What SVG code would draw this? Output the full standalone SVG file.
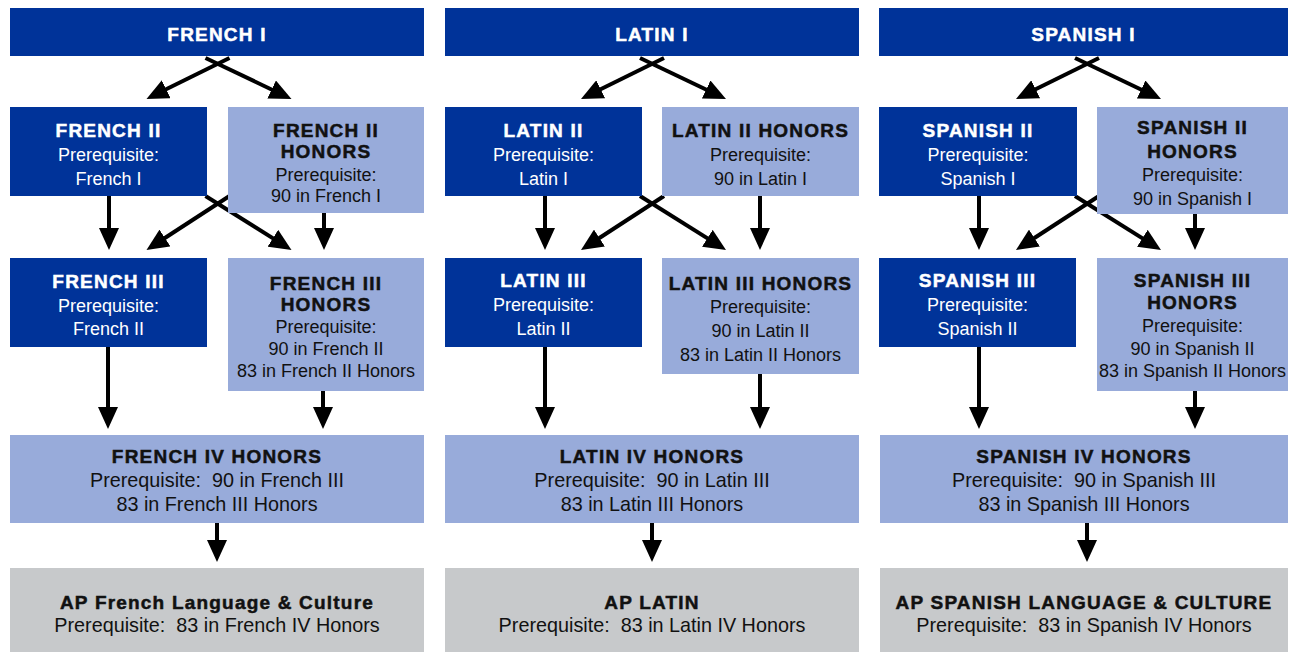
<svg xmlns="http://www.w3.org/2000/svg" width="1294" height="652" viewBox="0 0 1294 652">
<defs>
<style>
.dk{fill:#003399}
.lt{fill:#98abda}
.gr{fill:#c7c9cb}
text{font-family:"Liberation Sans",Arial,sans-serif;text-anchor:middle;font-size:18px}
.h{font-weight:bold;letter-spacing:1.2px;font-size:19px;stroke-width:0.5px}
.wd{font-size:19.8px}
.w{fill:#ffffff}
.k{fill:#111111}
.h.w{stroke:#ffffff}
.h.k{stroke:#111111}
.c line{stroke:#000;stroke-width:4;marker-end:url(#ah)}
</style>
<marker id="ah" markerUnits="userSpaceOnUse" markerWidth="22" markerHeight="20" refX="12" refY="10" orient="auto"><path d="M0,0 L22,10 L0,20 Z" fill="#000"/></marker>
</defs>
<rect width="1294" height="652" fill="#ffffff"/>
<g id="connectors" class="c">
<line x1="229.5" y1="58" x2="155.47" y2="94.57"/>
<line x1="205.5" y1="58" x2="282.47" y2="94.7"/>
<line x1="229.5" y1="196" x2="154.88" y2="244.55"/>
<line x1="205.5" y1="196" x2="283.03" y2="244.68"/>
<line x1="109" y1="196" x2="109" y2="240"/>
<line x1="324" y1="213" x2="324" y2="240"/>
<line x1="108" y1="347" x2="108" y2="419"/>
<line x1="323" y1="391" x2="323" y2="419"/>
<line x1="217" y1="523" x2="217" y2="552"/>
<line x1="664" y1="58" x2="589.97" y2="94.57"/>
<line x1="640" y1="58" x2="716.97" y2="94.7"/>
<line x1="664" y1="196" x2="589.38" y2="244.55"/>
<line x1="640" y1="196" x2="717.53" y2="244.68"/>
<line x1="545" y1="196" x2="545" y2="240"/>
<line x1="760" y1="196" x2="760" y2="240"/>
<line x1="545" y1="347" x2="545" y2="419"/>
<line x1="760" y1="374" x2="760" y2="419"/>
<line x1="652" y1="523" x2="652" y2="552"/>
<line x1="1099" y1="58" x2="1024.97" y2="94.57"/>
<line x1="1075" y1="58" x2="1151.97" y2="94.7"/>
<line x1="1099" y1="196" x2="1024.38" y2="244.55"/>
<line x1="1075" y1="196" x2="1152.53" y2="244.68"/>
<line x1="979" y1="196" x2="979" y2="240"/>
<line x1="1195" y1="214" x2="1195" y2="240"/>
<line x1="979" y1="347" x2="979" y2="419"/>
<line x1="1195" y1="391" x2="1195" y2="419"/>
<line x1="1087" y1="523" x2="1087" y2="552"/>
</g>

<g id="french1"><rect class="dk" x="10" y="8" width="414" height="48"/><text class="h w" x="217" y="41">FRENCH I</text></g>
<g id="french2"><rect class="dk" x="10" y="107" width="197" height="89"/><text class="h w" x="108.5" y="137">FRENCH II</text><text class="w" x="108.5" y="161">Prerequisite:</text><text class="w" x="108.5" y="185">French I</text></g>
<g id="french2h"><rect class="lt" x="228" y="107" width="196" height="106"/><text class="h k" x="326" y="137">FRENCH II</text><text class="h k" x="326" y="158">HONORS</text><text class="k" x="326" y="181">Prerequisite:</text><text class="k" x="326" y="202">90 in French I</text></g>
<g id="french3"><rect class="dk" x="10" y="258" width="197" height="89"/><text class="h w" x="108.5" y="288">FRENCH III</text><text class="w" x="108.5" y="312">Prerequisite:</text><text class="w" x="108.5" y="335">French II</text></g>
<g id="french3h"><rect class="lt" x="228" y="258" width="196" height="133"/><text class="h k" x="326" y="290">FRENCH III</text><text class="h k" x="326" y="311">HONORS</text><text class="k" x="326" y="333">Prerequisite:</text><text class="k" x="326" y="355">90 in French II</text><text class="k" x="326" y="377">83 in French II Honors</text></g>
<g id="french4h"><rect class="lt" x="10" y="435" width="414" height="88"/><text class="h k" x="217" y="463">FRENCH IV HONORS</text><text class="k wd" x="217" y="487">Prerequisite:&#160; 90 in French III</text><text class="k wd" x="217" y="511">83 in French III Honors</text></g>
<g id="frenchap"><rect class="gr" x="10" y="568" width="414" height="84"/><text class="h k" x="217" y="609">AP French Language &amp; Culture</text><text class="k wd" x="217" y="632">Prerequisite:&#160; 83 in French IV Honors</text></g>

<g id="latin1"><rect class="dk" x="445" y="8" width="414" height="48"/><text class="h w" x="652" y="41">LATIN I</text></g>
<g id="latin2"><rect class="dk" x="445" y="107" width="197" height="89"/><text class="h w" x="543.5" y="137">LATIN II</text><text class="w" x="543.5" y="161">Prerequisite:</text><text class="w" x="543.5" y="185">Latin I</text></g>
<g id="latin2h"><rect class="lt" x="662" y="107" width="197" height="89"/><text class="h k" x="760.5" y="137">LATIN II HONORS</text><text class="k" x="760.5" y="161">Prerequisite:</text><text class="k" x="760.5" y="185">90 in Latin I</text></g>
<g id="latin3"><rect class="dk" x="445" y="258" width="197" height="89"/><text class="h w" x="543.5" y="287">LATIN III</text><text class="w" x="543.5" y="311">Prerequisite:</text><text class="w" x="543.5" y="335">Latin II</text></g>
<g id="latin3h"><rect class="lt" x="662" y="258" width="197" height="116"/><text class="h k" x="760.5" y="290">LATIN III HONORS</text><text class="k" x="760.5" y="313">Prerequisite:</text><text class="k" x="760.5" y="337">90 in Latin II</text><text class="k" x="760.5" y="361">83 in Latin II Honors</text></g>
<g id="latin4h"><rect class="lt" x="445" y="435" width="414" height="88"/><text class="h k" x="652" y="463">LATIN IV HONORS</text><text class="k wd" x="652" y="487">Prerequisite:&#160; 90 in Latin III</text><text class="k wd" x="652" y="511">83 in Latin III Honors</text></g>
<g id="latinap"><rect class="gr" x="445" y="568" width="414" height="84"/><text class="h k" x="652" y="609">AP LATIN</text><text class="k wd" x="652" y="632">Prerequisite:&#160; 83 in Latin IV Honors</text></g>

<g id="spanish1"><rect class="dk" x="879" y="8" width="409" height="48"/><text class="h w" x="1083.5" y="41">SPANISH I</text></g>
<g id="spanish2"><rect class="dk" x="879" y="107" width="198" height="89"/><text class="h w" x="978" y="137">SPANISH II</text><text class="w" x="978" y="161">Prerequisite:</text><text class="w" x="978" y="185">Spanish I</text></g>
<g id="spanish2h"><rect class="lt" x="1097" y="107" width="191" height="107"/><text class="h k" x="1192.5" y="134">SPANISH II</text><text class="h k" x="1192.5" y="158">HONORS</text><text class="k" x="1192.5" y="181">Prerequisite:</text><text class="k" x="1192.5" y="205">90 in Spanish I</text></g>
<g id="spanish3"><rect class="dk" x="879" y="258" width="197" height="89"/><text class="h w" x="977.5" y="287">SPANISH III</text><text class="w" x="977.5" y="311">Prerequisite:</text><text class="w" x="977.5" y="335">Spanish II</text></g>
<g id="spanish3h"><rect class="lt" x="1097" y="258" width="191" height="133"/><text class="h k" x="1192.5" y="287">SPANISH III</text><text class="h k" x="1192.5" y="309">HONORS</text><text class="k" x="1192.5" y="332">Prerequisite:</text><text class="k" x="1192.5" y="355">90 in Spanish II</text><text class="k" x="1192.5" y="377">83 in Spanish II Honors</text></g>
<g id="spanish4h"><rect class="lt" x="880" y="435" width="408" height="88"/><text class="h k" x="1084" y="463">SPANISH IV HONORS</text><text class="k wd" x="1084" y="487">Prerequisite:&#160; 90 in Spanish III</text><text class="k wd" x="1084" y="511">83 in Spanish III Honors</text></g>
<g id="spanishap"><rect class="gr" x="880" y="568" width="408" height="84"/><text class="h k" x="1084" y="609">AP SPANISH LANGUAGE &amp; CULTURE</text><text class="k wd" x="1084" y="632">Prerequisite:&#160; 83 in Spanish IV Honors</text></g>
</svg>
